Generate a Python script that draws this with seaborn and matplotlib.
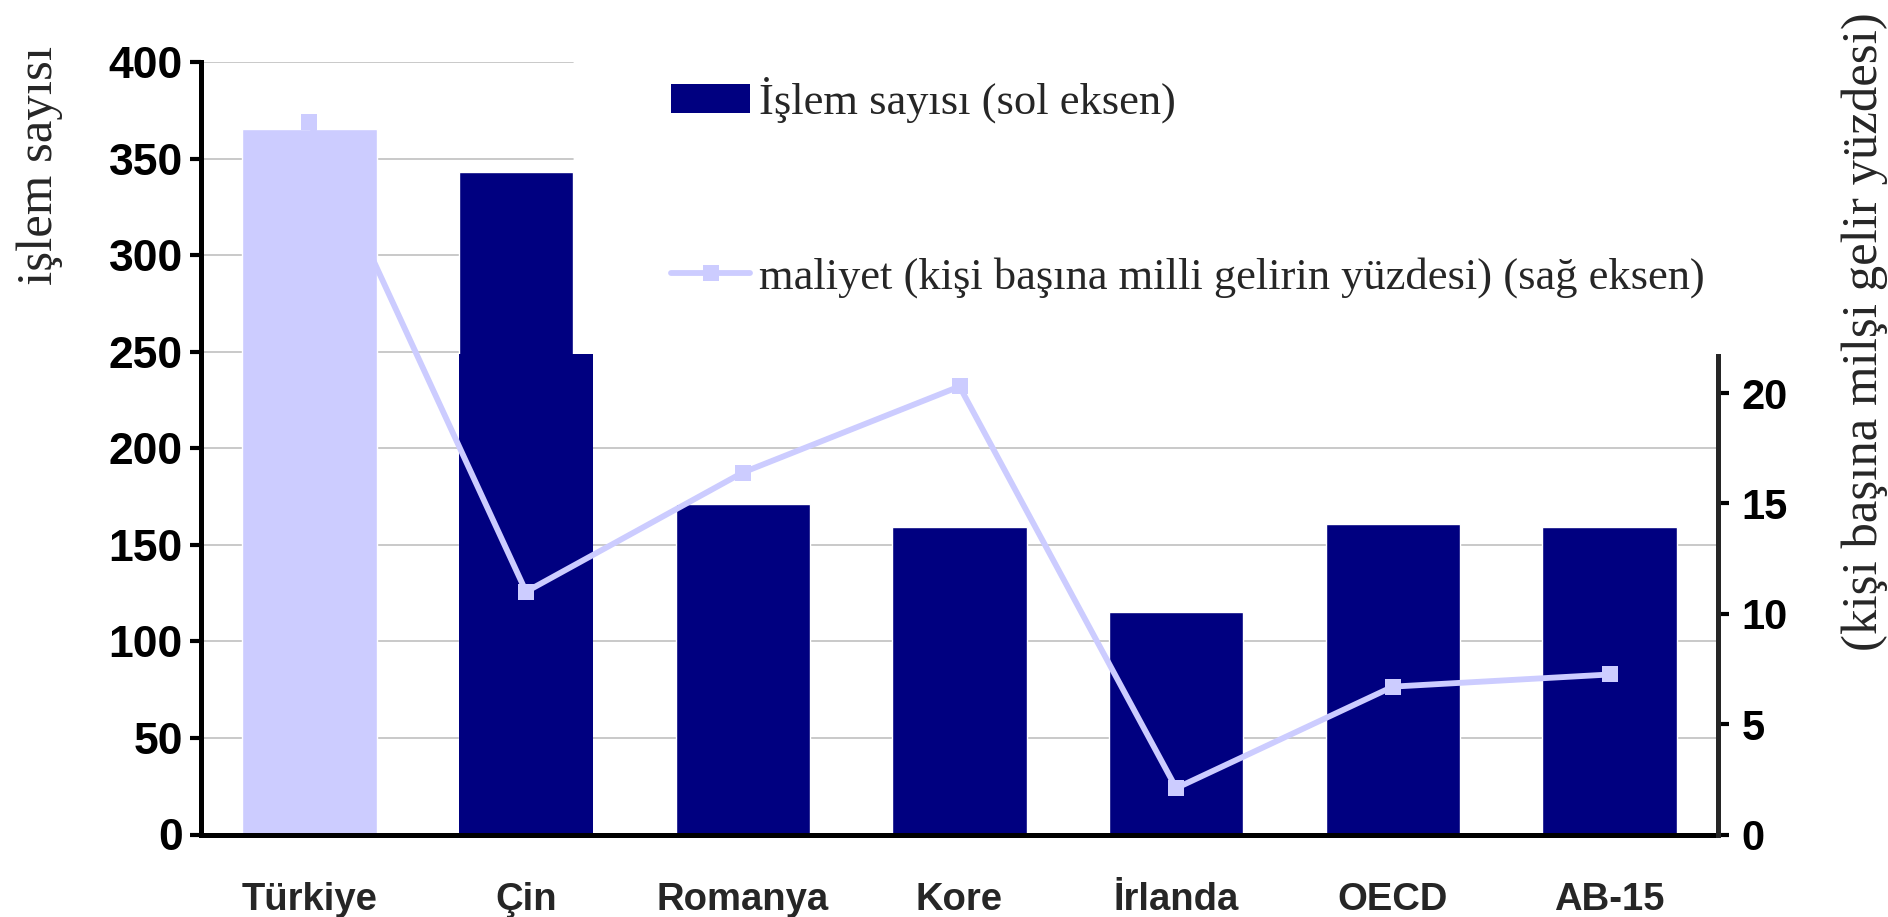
import numpy as np
import pandas as pd
import matplotlib
matplotlib.use("Agg")
import matplotlib.pyplot as plt
import seaborn as sns
from matplotlib.patches import Patch
from matplotlib.lines import Line2D
from matplotlib.ticker import FixedLocator

# ---- data ----
categories = ["Türkiye", "Çin", "Romanya", "Kore", "İrlanda", "OECD", "AB-15"]
islem_sayisi = [365.5, 343, 171, 159, 115, 161, 159]
cin_step = 249          # lower right step visible on the Çin bar
maliyet = [32.3, 11.0, 16.4, 20.3, 2.1, 6.7, 7.25]
left_ticks = [0, 50, 100, 150, 200, 250, 300, 350, 400]
right_ticks = [0, 5, 10, 15, 20]
bar_colors = ["#CCCCFF", "#000080", "#000080", "#000080", "#000080", "#000080", "#000080"]
line_color = "#CCCCFF"
legend_labels = ["İşlem sayısı (sol eksen)",
                 "maliyet (kişi başına milli gelirin yüzdesi) (sağ eksen)"]
left_label = "işlem sayısı"
right_label = "(kişi başına milşi gelir yüzdesi)"

sns.set_style("white")
plt.rcParams["font.family"] = ["Liberation Sans", "DejaVu Sans"]

fig = plt.figure(figsize=(18.88, 9.17), dpi=100)
ax = fig.add_axes([201 / 1888, 1 - 834.5 / 917, 1517 / 1888, 772.5 / 917])

df = pd.DataFrame({"ulke": categories, "islem": islem_sayisi})
sns.barplot(data=df, x="ulke", y="islem", hue="ulke", palette=bar_colors,
            width=0.62, saturation=1, legend=False, ax=ax, zorder=2)

# Çin bar: upper block narrower, lower right step
bar_w = 0.62
upper_w = 0.526
cin_patch = ax.patches[1]
x0 = cin_patch.get_x()
cin_patch.set_width(upper_w)
ax.bar(x0, cin_step, width=bar_w, align="edge",
       color=bar_colors[1], linewidth=0, zorder=2)

ax.set_xlim(-0.5, len(categories) - 0.5)
ax.set_ylim(left_ticks[0], left_ticks[-1])

# gridlines (upper ones stop at the Çin bar)
for v in left_ticks[1:]:
    xmax = 1.0 if v < 250 else (x0 + upper_w + 0.5) / len(categories)
    ax.axhline(v, xmin=0, xmax=xmax, color="#C0C0C0", lw=1.2, zorder=0)

# spines
for s in ["top", "right"]:
    ax.spines[s].set_visible(False)
for s in ["left", "bottom"]:
    ax.spines[s].set_linewidth(3.6)
    ax.spines[s].set_color("black")

ax.set_yticks(left_ticks)
ax.tick_params(axis="y", direction="out", length=8, width=3, pad=5,
               labelsize=32, colors="black")
for lbl in ax.get_yticklabels():
    lbl.set_fontweight("bold")

ax.set_xticks(range(len(categories)))
ax.set_xticklabels(categories, fontsize=27.5, fontweight="bold")
ax.tick_params(axis="x", which="major", length=0, pad=34)
ax.xaxis.set_minor_locator(FixedLocator(np.arange(-0.5, len(categories), 1.0)))
ax.tick_params(axis="x", which="minor", direction="out", length=10, width=3)
ax.set_xlabel("")

ax.set_ylabel(left_label, fontsize=36.5, family="Liberation Serif", loc="top")
ax.yaxis.set_label_coords(-0.091, 1.0207)

# ---- line on right axis ----
ax2 = ax.twinx()
sns.lineplot(x=np.arange(len(categories)), y=maliyet, ax=ax2, color=line_color,
             lw=4.2, marker="s", markersize=11, markeredgewidth=0, zorder=3)
ax2.set_ylim(0, 35.0)
ax2.set_xlim(-0.5, len(categories) - 0.5)
for s in ["top", "left", "bottom"]:
    ax2.spines[s].set_visible(False)
ax2.spines["right"].set_linewidth(3.6)
ax2.spines["right"].set_bounds(0, 21.7)
ax2.set_yticks(right_ticks)
ax2.tick_params(axis="y", direction="out", length=8, width=3, pad=9,
                labelsize=30, colors="black")
for lbl in ax2.get_yticklabels():
    lbl.set_fontweight("bold")
ax2.grid(False)
ax2.set_ylabel(right_label, fontsize=36.5, family="Liberation Serif", loc="top")
ax2.yaxis.set_label_coords(1.0817, 1.0647)

handles = [Patch(facecolor=bar_colors[1], edgecolor="none"),
           Line2D([], [], color=line_color, lw=4.2, marker="s", markersize=11,
                  markeredgewidth=0)]
fig.legend(handles, legend_labels, loc="upper left",
           bbox_to_anchor=(671 / 1888, 1 - 77 / 917), frameon=False,
           prop={"family": "Liberation Serif", "size": 32},
           handlelength=1.78, handleheight=0.62, handletextpad=0.2,
           labelspacing=3.0, borderpad=0, borderaxespad=0)

fig.savefig("out.png", dpi=100)
